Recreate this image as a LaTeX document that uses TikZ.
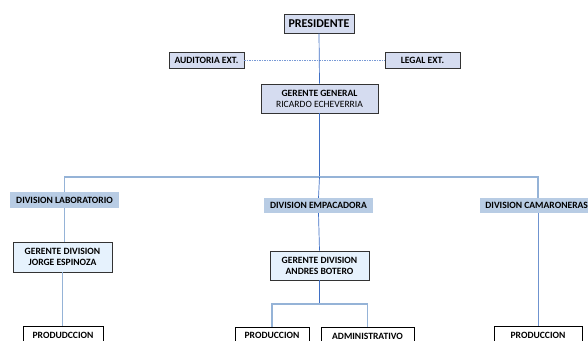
\documentclass[tikz,border=0pt]{standalone}
\usepackage{fontspec}
\setmainfont{Carlito}
\begin{document}
\begin{tikzpicture}[x=1pt,y=-1pt,
  lbl/.style={font=\bfseries\fontsize{9.6}{11}\selectfont, inner sep=0pt, align=center},
  topbox/.style={lbl, draw=black!80, line width=0.8pt, fill=topfill},
  divbox/.style={lbl, fill=divfill},
  gdbox/.style={lbl, draw=black!80, line width=0.8pt, fill=gdfill},
  unitbox/.style={lbl, draw=black, line width=0.8pt, fill=white, text height=6.5pt, text depth=3pt},
  dark/.style={draw=darkline, line width=0.7pt},
  light/.style={draw=lightline, line width=1.5pt},
  ext/.style={draw=darkline!70, line width=0.6pt, dashed, dash pattern=on 1.5pt off 1pt}
]
\definecolor{topfill}{HTML}{D5DCF0}
\definecolor{divfill}{HTML}{B8CCE4}
\definecolor{gdfill}{HTML}{E6F2FD}
\definecolor{darkline}{HTML}{3F6FC4}
\definecolor{lightline}{HTML}{95B3D7}
\definecolor{midline}{HTML}{6F93CF}
\useasboundingbox (0,0) rectangle (588,340);
\clip (0,0) rectangle (588,340);

\node[topbox, minimum width=70pt, minimum height=19pt, font=\bfseries\fontsize{12}{14}\selectfont] (pres) at (319,23.5) {PRESIDENTE};
\node[topbox, minimum width=75pt, minimum height=16pt] (aud) at (206.5,60) {AUDITORIA EXT.};
\node[topbox, minimum width=75pt, minimum height=16pt] (leg) at (422.5,60) {LEGAL EXT.};
\node[topbox, minimum width=117pt, minimum height=29pt] (gg) at (319.5,98.5) {GERENTE GENERAL\\{\mdseries RICARDO ECHEVERRIA}};

\node[divbox, minimum width=109pt, minimum height=16pt] (lab) at (64.5,200) {DIVISION LABORATORIO};
\node[divbox, minimum width=109pt, minimum height=15pt] (emp) at (318.5,205.5) {DIVISION EMPACADORA};
\node[divbox, minimum width=110pt, minimum height=15pt, anchor=west] (cam) at (480,205.5) {\hspace*{3pt}DIVISION CAMARONERAS};

\node[gdbox, minimum width=99pt, minimum height=30pt] (gdj) at (62.5,257) {GERENTE DIVISION\\JORGE ESPINOZA};
\node[gdbox, minimum width=99pt, minimum height=29pt] (gda) at (319.5,265.5) {GERENTE DIVISION\\ANDRES BOTERO};

\node[unitbox, minimum width=80pt, minimum height=22pt] (p1) at (63,337) {PRODUDCCION};
\node[unitbox, minimum width=74pt, minimum height=22pt, text depth=5pt] (p2) at (272,338) {PRODUCCION};
\node[unitbox, minimum width=93pt, minimum height=22pt, text depth=5.5pt] (adm) at (367.5,338.5) {ADMINISTRATIVO};
\node[unitbox, minimum width=88pt, minimum height=22pt] (p3) at (538,337) {PRODUCCION};

\coordinate (bus) at (319.5,177);
\coordinate (sub) at (319.5,304);

\draw[ext] (aud.east) -- (leg.west);
\draw[dark] (pres.south) -- (gg.north);
\draw[dark] (gg.south) -- (bus);
\draw[light] (lab.north) |- (bus);
\draw[light] (bus) -| (cam.north -| p3.north);
\draw[dark] (bus) -- (emp.north);
\draw[light] (lab.south) -- (lab.south |- gdj.north);
\draw[light] (gdj.south) -- (gdj.south |- p1.north);
\draw[dark] (emp.south) -- (gda.north);
\draw[dark] (gda.south) -- (sub);
\draw[light] (p2.north) |- (sub) -| (adm.north);
\draw[midline, line width=0.7pt] (cam.south -| p3.north) -- (p3.north);
\end{tikzpicture}
\end{document}
